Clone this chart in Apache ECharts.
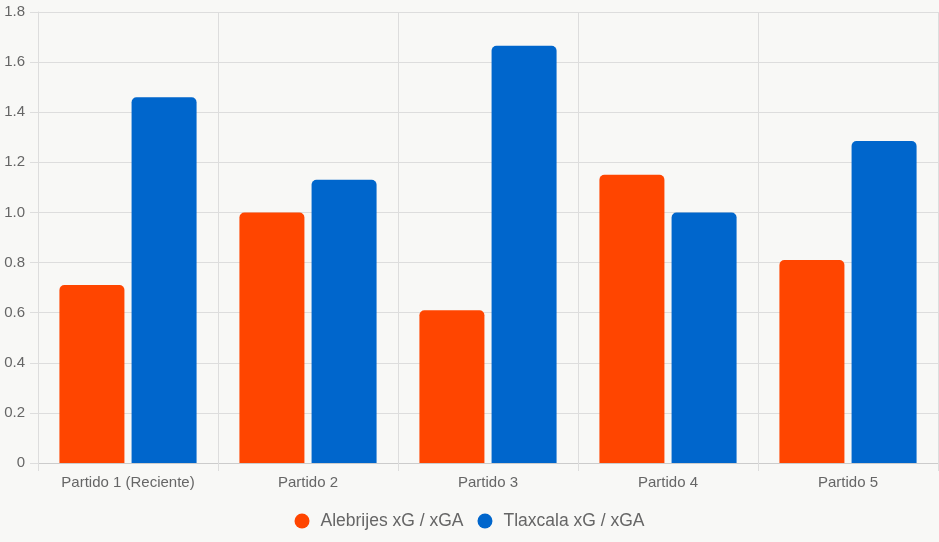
<!DOCTYPE html>
<html>
<head>
<meta charset="utf-8">
<script src="https://cdn.jsdelivr.net/npm/echarts@6/dist/echarts.min.js"></script>
<style>
html,body{margin:0;padding:0;background:#f8f8f6;}
#c{width:939px;height:542px;}
</style>
</head>
<body>
<div id="c"></div>
<script>
const categories = ['Partido 1 (Reciente)', 'Partido 2', 'Partido 3', 'Partido 4', 'Partido 5'];
const alebrijes = [0.71, 1.00, 0.61, 1.15, 0.81];
const tlaxcala = [1.46, 1.13, 1.665, 1.00, 1.285];
const seriesNames = ['Alebrijes xG / xGA', 'Tlaxcala xG / xGA'];
const colors = ['#ff4500', '#0066cc'];

const font = 'Liberation Sans, Arial, Helvetica, sans-serif';
const gridColor = '#dddddd';

const chart = echarts.init(document.getElementById('c'), null, {renderer: 'canvas'});
chart.setOption({
  backgroundColor: '#f8f8f6',
  animation: false,
  textStyle: {fontFamily: font},
  grid: {left: 38, right: 1, top: 12, bottom: 79, containLabel: false},
  legend: {
    bottom: 7,
    left: 'center',
    icon: 'circle',
    itemWidth: 27,
    itemHeight: 15,
    itemGap: 14,
    textStyle: {color: '#666', fontSize: 17.5, fontFamily: font},
    data: seriesNames
  },
  xAxis: {
    type: 'category',
    data: categories,
    axisLine: {show: true, lineStyle: {color: '#cccccc', width: 1}},
    axisTick: {show: true, length: 8, lineStyle: {color: gridColor}},
    splitLine: {show: true, lineStyle: {color: gridColor}},
    axisLabel: {color: '#666', fontSize: 15, margin: 12, fontFamily: font}
  },
  yAxis: {
    type: 'value',
    min: 0,
    max: 1.8,
    interval: 0.2,
    axisLine: {show: true, lineStyle: {color: gridColor}},
    axisTick: {show: true, length: 8, lineStyle: {color: gridColor}},
    splitLine: {show: true, lineStyle: {color: gridColor}},
    axisLabel: {
      color: '#666', fontSize: 15, margin: 13, fontFamily: font,
      formatter: v => v === 0 ? '0' : v.toFixed(1)
    }
  },
  series: [
    {
      name: seriesNames[0], type: 'bar', data: alebrijes,
      barWidth: 65, barGap: '11%',
      itemStyle: {color: colors[0], borderRadius: [5, 5, 0, 0]}
    },
    {
      name: seriesNames[1], type: 'bar', data: tlaxcala,
      barWidth: 65, barGap: '11%',
      itemStyle: {color: colors[1], borderRadius: [5, 5, 0, 0]}
    }
  ]
});
</script>
</body>
</html>
